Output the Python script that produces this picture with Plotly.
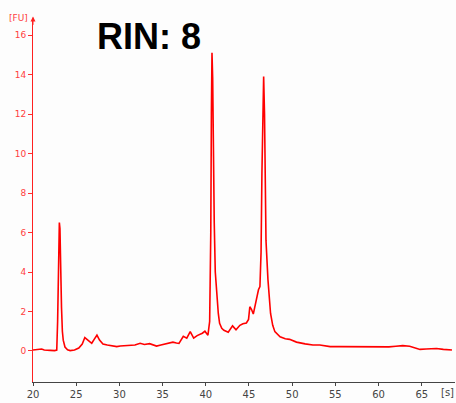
import plotly.graph_objects as go

# Electropherogram trace (time [s], fluorescence [FU])
time_s = [20.0, 20.5, 21.0, 21.3, 21.7, 22.0, 22.5, 22.75, 22.85, 22.95, 23.05, 23.12, 23.2, 23.3, 23.4, 23.5,
          23.7, 24.0, 24.3, 24.8, 25.3, 25.7, 26.0, 26.4, 26.8, 27.1, 27.4, 27.7, 28.1, 28.6, 29.2, 29.7,
          30.1, 30.7, 31.3, 31.8, 32.4, 32.9, 33.5, 34.0, 34.3, 34.8, 35.3, 35.8, 36.2, 36.6, 36.9, 37.4,
          37.8, 38.2, 38.6, 39.0, 39.3, 39.6, 39.9, 40.25, 40.45, 40.58, 40.65, 40.72, 40.8, 40.88, 40.98,
          41.1, 41.27, 41.45, 41.6, 41.85, 42.1, 42.6, 43.1, 43.5, 43.95, 44.3, 44.7, 44.95, 45.1, 45.3,
          45.5, 45.7, 45.9, 46.1, 46.27, 46.4, 46.5, 46.6, 46.7, 46.8, 46.97, 47.2, 47.5, 47.75, 48.0,
          48.6, 49.2, 49.7, 50.5, 51.5, 52.4, 53.2, 54.4, 55.5, 56.3, 57.5, 58.5, 59.5, 60.2, 61.2, 62.0,
          62.8, 63.6, 64.2, 64.8, 65.5, 66.2, 66.7, 67.5, 68.5]
signal_fu = [0.05, 0.06, 0.1, 0.05, 0.06, 0.03, 0.02, 0.05, 1.5, 4.5, 6.5, 6.2, 4.0, 2.2, 1.0, 0.55,
             0.2, 0.06, 0.02, 0.05, 0.15, 0.35, 0.68, 0.55, 0.39, 0.6, 0.8, 0.55, 0.35, 0.3, 0.25, 0.22,
             0.25, 0.27, 0.3, 0.3, 0.39, 0.33, 0.37, 0.28, 0.25, 0.3, 0.35, 0.4, 0.45, 0.4, 0.38, 0.74,
             0.65, 0.98, 0.65, 0.78, 0.83, 0.9, 1.0, 0.8, 1.5, 6.0, 12.0, 15.1, 13.8, 10.0, 6.5,
             4.0, 2.75, 1.9, 1.4, 1.15, 1.05, 0.95, 1.27, 1.07, 1.3, 1.38, 1.42, 1.6, 2.24, 2.1,
             1.87, 2.3, 2.84, 3.1, 3.26, 5.0, 9.0, 13.2, 13.9, 12.0, 5.6, 3.6, 1.9, 1.3, 0.98,
             0.72, 0.62, 0.59, 0.45, 0.36, 0.3, 0.3, 0.22, 0.22, 0.22, 0.21, 0.2, 0.2, 0.2, 0.21, 0.24,
             0.27, 0.24, 0.15, 0.08, 0.1, 0.12, 0.13, 0.08, 0.05]

x_ticks = [20, 25, 30, 35, 40, 45, 50, 55, 60, 65]
y_ticks = [0, 2, 4, 6, 8, 10, 12, 14, 16]
title_text = "RIN: 8"

fig = go.Figure()
fig.add_trace(go.Scatter(x=time_s, y=signal_fu, mode="lines",
                         line=dict(color="#ff0000", width=1.6), hoverinfo="skip"))

fig.update_layout(
    width=456, height=403,
    margin=dict(l=33, r=1, t=20, b=21),
    paper_bgcolor="#fdfdfd", plot_bgcolor="#fdfdfd",
    showlegend=False,
    xaxis=dict(range=[20, 68.85], tickvals=x_ticks, ticks="outside", ticklen=3,
               tickcolor="#444444", showline=True, linecolor="#444444", linewidth=1,
               showgrid=False, zeroline=False, automargin=False,
               tickfont=dict(family="DejaVu Sans", size=10, color="#444444")),
    yaxis=dict(range=[-1.57, 16.76], tickvals=y_ticks, ticks="outside", ticklen=4,
               tickcolor="#ff3030", showline=True, linecolor="#ff2020", linewidth=1,
               showgrid=False, zeroline=False, automargin=False,
               tickfont=dict(family="DejaVu Sans", size=9, color="#ff4040")),
    annotations=[
        dict(text=title_text, x=149, y=36, xref="paper", yref="paper", showarrow=False,
             font=dict(family="Liberation Sans", size=36, color="#000000")),
        dict(text="[FU]", x=18, y=18, xref="paper", yref="paper", showarrow=False,
             font=dict(family="DejaVu Sans", size=9, color="#ff4040")),
        dict(text="[s]", x=447, y=392, xref="paper", yref="paper", showarrow=False,
             font=dict(family="DejaVu Sans", size=10, color="#444444")),
        dict(text="", x=0, y=1.01, xref="paper", yref="paper", showarrow=True,
             ax=0, ay=10, arrowhead=2, arrowsize=1, arrowwidth=1, arrowcolor="#ff2020"),
    ],
)
# convert pixel positions of annotations to paper coordinates
pw, ph = 456 - 33 - 1, 403 - 20 - 21
for a in fig.layout.annotations[:3]:
    a.x = (a.x - 33) / pw
    a.y = 1 - (a.y - 20) / ph
    a.update(xanchor="center", yanchor="middle")
fig.layout.annotations[0].font.update(weight="bold")

fig.write_html("out.html", config={"displayModeBar": False},
               post_script="document.body.style.margin='0px';")
